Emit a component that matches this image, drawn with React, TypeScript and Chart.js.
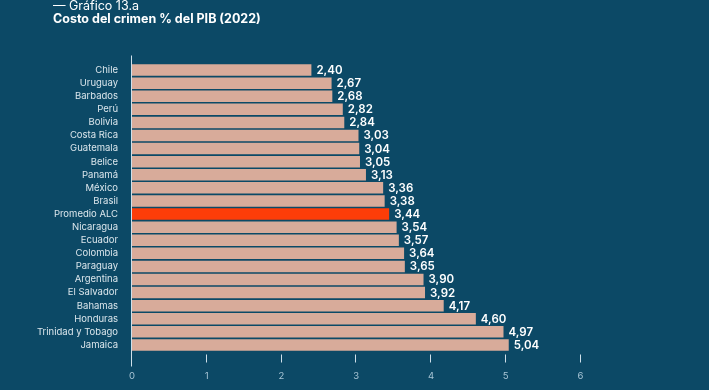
import React, { useEffect, useRef } from "react";
import { Chart, registerables } from "chart.js";

Chart.register(...registerables);

const categories = [
  "Chile", "Uruguay", "Barbados", "Perú", "Bolivia", "Costa Rica", "Guatemala", "Belice",
  "Panamá", "México", "Brasil", "Promedio ALC", "Nicaragua", "Ecuador", "Colombia", "Paraguay",
  "Argentina", "El Salvador", "Bahamas", "Honduras", "Trinidad y Tobago", "Jamaica",
];
const values = [
  2.40, 2.67, 2.68, 2.82, 2.84, 3.03, 3.04, 3.05, 3.13, 3.36, 3.38, 3.44, 3.54, 3.57, 3.64, 3.65,
  3.90, 3.92, 4.17, 4.60, 4.97, 5.04,
];
const highlight = "Promedio ALC";
const xTicks = [0, 1, 2, 3, 4, 5, 6];

const BG = "#0c4966";
const BAR = "#d8ab9a";
const HI = "#fd3d08";
const AXIS = "#cfe0ea";
const FONT = "Inter, 'Noto Sans', sans-serif";

const decorPlugin = {
  id: "decor",
  afterDatasetsDraw(chart: any) {
    const { ctx, chartArea, scales } = chart;
    const xs = scales.x;
    ctx.save();
    ctx.strokeStyle = AXIS;
    ctx.lineWidth = 1;
    const x0 = Math.round(xs.getPixelForValue(0)) - 0.5;
    ctx.beginPath();
    ctx.moveTo(x0, chartArea.top - 8);
    ctx.lineTo(x0, chartArea.bottom + 15);
    ctx.stroke();
    xTicks.forEach((t) => {
      if (t === 0) return;
      const px = Math.round(xs.getPixelForValue(t)) - 0.5;
      ctx.beginPath();
      ctx.moveTo(px, chartArea.bottom + 3);
      ctx.lineTo(px, chartArea.bottom + 11);
      ctx.stroke();
    });
    const meta = chart.getDatasetMeta(0);
    ctx.fillStyle = "#ffffff";
    ctx.font = `600 11.5px ${FONT}`;
    ctx.textBaseline = "middle";
    ctx.textAlign = "left";
    meta.data.forEach((el: any, i: number) => {
      ctx.fillText(values[i].toFixed(2).replace(".", ","), el.x + 5, el.y + 0.5);
    });
    ctx.restore();
  },
};

export default function App() {
  const ref = useRef<HTMLCanvasElement | null>(null);
  useEffect(() => {
    document.body.style.margin = "0";
    document.body.style.background = BG;
    const chart = new Chart(ref.current as HTMLCanvasElement, {
      type: "bar",
      data: {
        labels: categories,
        datasets: [
          {
            data: values,
            backgroundColor: categories.map((c) => (c === highlight ? HI : BAR)),
            barPercentage: 0.88,
            categoryPercentage: 1,
          },
        ],
      },
      options: {
        indexAxis: "y",
        animation: false,
        responsive: false,
        maintainAspectRatio: false,
        layout: { padding: { top: 63.5, right: 128.5, left: 0, bottom: 0 } },
        plugins: { legend: { display: false }, tooltip: { enabled: false } },
        scales: {
          x: {
            min: 0,
            max: 6,
            afterBuildTicks: (s: any) => {
              s.ticks = xTicks.map((v) => ({ value: v }));
            },
            afterFit: (s: any) => {
              s.height = 38.5;
            },
            grid: { display: false },
            border: { display: false },
            ticks: {
              color: "#a9c6d6",
              font: { family: FONT, size: 9.5 },
              padding: 11,
              maxRotation: 0,
            },
          },
          y: {
            afterFit: (s: any) => {
              s.width = 132;
            },
            grid: { display: false },
            border: { display: false },
            ticks: {
              color: "#dbe6ec",
              font: { family: FONT, size: 9.5 },
              padding: 6,
              autoSkip: false,
            },
          },
        },
      },
      plugins: [decorPlugin],
    });
    return () => chart.destroy();
  }, []);
  return (
    <div style={{ position: "relative", width: 709, height: 390, background: BG, overflow: "hidden" }}>
      <div
        style={{
          position: "absolute",
          left: 53,
          top: 0,
          color: "#ffffff",
          fontFamily: FONT,
          fontSize: 12.5,
          lineHeight: "12.5px",
          whiteSpace: "nowrap",
        }}
      >
        <div>— Gráfico 13.a</div>
        <div style={{ fontWeight: 700 }}>Costo del crimen % del PIB (2022)</div>
      </div>
      <canvas ref={ref} width={709} height={390} style={{ display: "block" }} />
    </div>
  );
}
